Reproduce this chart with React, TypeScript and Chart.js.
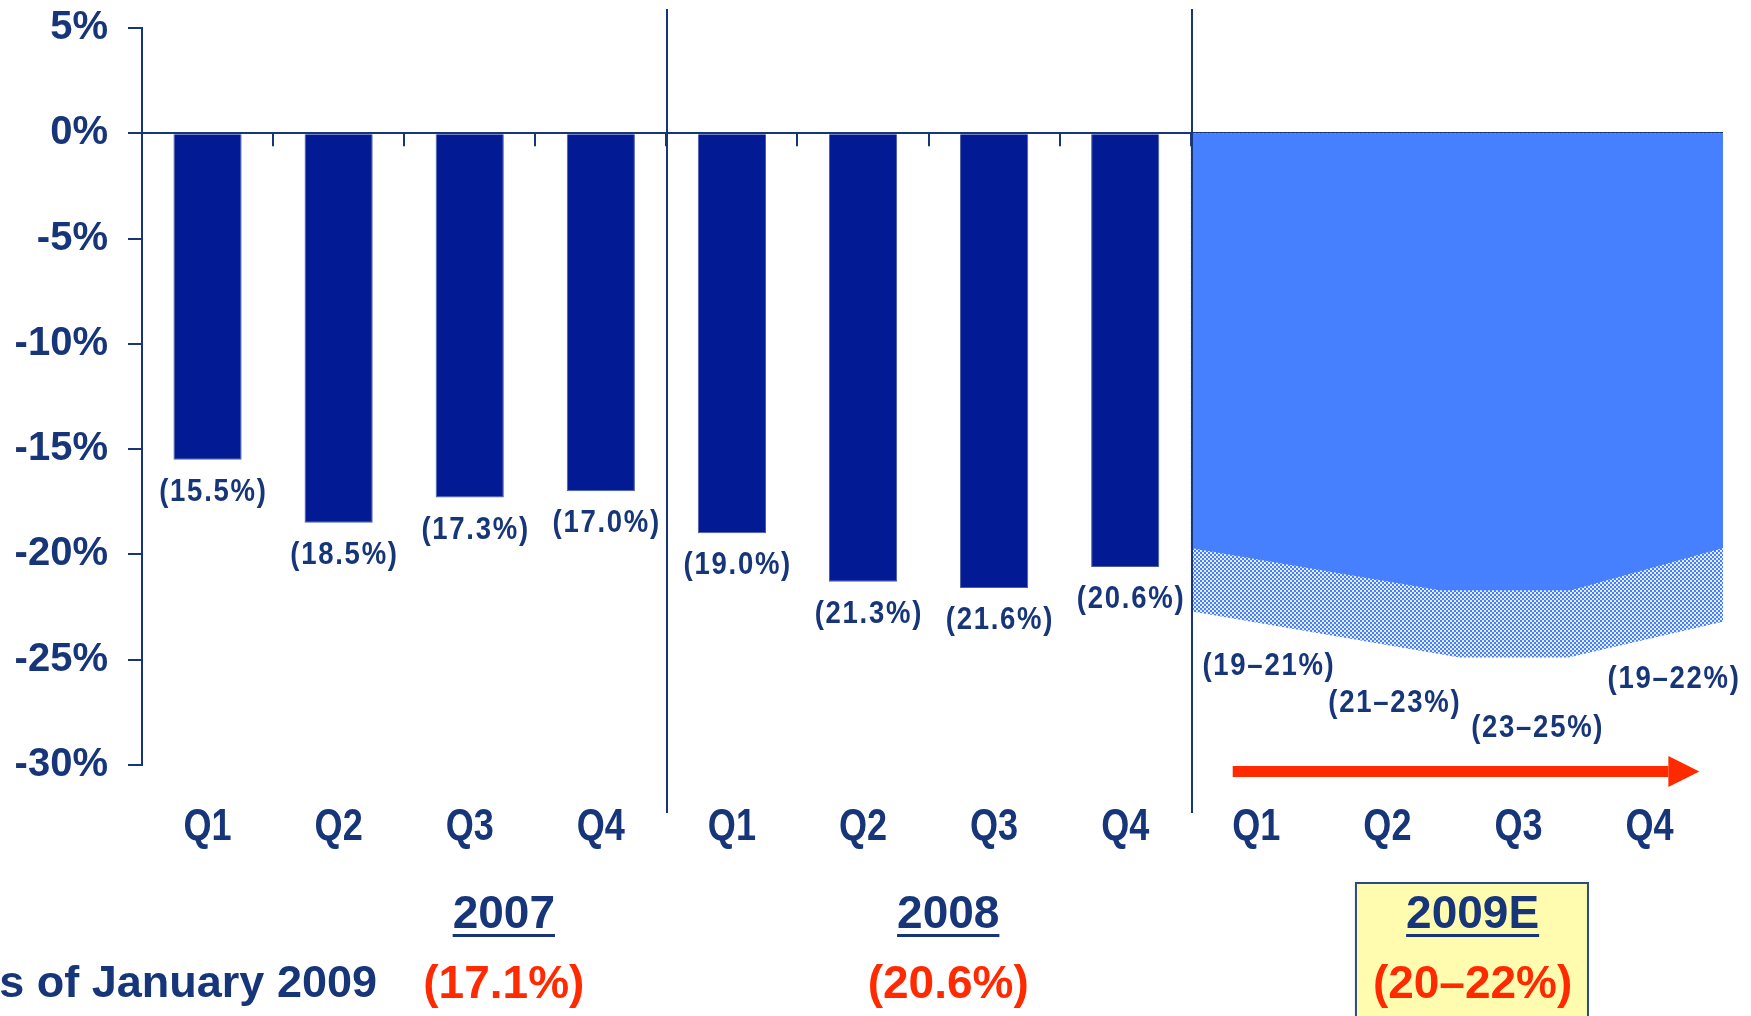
import React, { useEffect, useRef } from "react";
import { Chart, registerables } from "chart.js";

Chart.register(...registerables);

// ---------------- data ----------------
const quarters = ["Q1", "Q2", "Q3", "Q4", "Q1", "Q2", "Q3", "Q4", "Q1", "Q2", "Q3", "Q4"];
const actualValues: (number | null)[] = [-15.5, -18.5, -17.3, -17.0, -19.0, -21.3, -21.6, -20.6, null, null, null, null];
const yMin = -30;
const yMax = 5;
const yStep = 5;
// 2009E forecast band, x in quarter-index units, y in %
const forecastEdgeX = [7.5, 9.4, 10.4, 11.56];
const forecastEdgeY = [-19.7, -21.7, -21.7, -19.7];
const forecastLowX = [7.5, 9.55, 10.38, 11.56];
const forecastLowY = [-22.7, -24.9, -24.9, -23.2];
const rangeLabels = ["(19\u201321%)", "(21\u201323%)", "(23\u201325%)", "(19\u201322%)"];
const years = ["2007", "2008", "2009E"];
const annualLabels = ["(17.1%)", "(20.6%)", "(20\u201322%)"];
const footnote = "s of January 2009";

// ---------------- styling ----------------
const NAVY = "#17367a";
const BAR = "#021a94";
const AREA = "#4680ff";
const RED = "#ff2a00";
const FONT = '"Liberation Sans", Arial, sans-serif';

// layout anchors for annotations (quarter-index units / value units)
const rangeLabelDx = [0.09, 0.05, 0.14, 0.18];
const rangeLabelY = [-25.72, -27.5, -28.67, -26.34];
const yearX = [2.26, 5.65, 9.65];

function makeHatch(ctx: CanvasRenderingContext2D) {
  const c = document.createElement("canvas");
  c.width = 4;
  c.height = 4;
  const g = c.getContext("2d")!;
  g.fillStyle = "#e4ecff";
  g.fillRect(0, 0, 4, 4);
  g.fillStyle = AREA;
  g.fillRect(0, 0, 2, 2);
  g.fillRect(2, 2, 2, 2);
  return ctx.createPattern(c, "repeat");
}

function narrowText(
  ctx: CanvasRenderingContext2D,
  text: string,
  cx: number,
  baseline: number,
  size: number,
  sx: number,
  spacing: number
) {
  ctx.save();
  ctx.translate(cx, baseline);
  ctx.scale(sx, 1);
  ctx.font = `bold ${size}px ${FONT}`;
  (ctx as any).letterSpacing = `${spacing}px`;
  ctx.textAlign = "center";
  ctx.textBaseline = "alphabetic";
  ctx.fillText(text, spacing / 2, 0);
  ctx.restore();
}

const decor = {
  id: "decor",
  beforeDatasetsDraw(chart: any) {
    const { ctx, scales } = chart;
    const x = scales.x;
    const y0 = scales.y.getPixelForValue(0);
    ctx.save();
    ctx.strokeStyle = NAVY;
    ctx.lineWidth = 2;
    for (let b = 0.5; b <= 7.5; b += 1) {
      const px = Math.round(x.getPixelForValue(b));
      ctx.beginPath();
      ctx.moveTo(px, y0);
      ctx.lineTo(px, y0 + 13);
      ctx.stroke();
    }
    ctx.restore();
  },
  afterDatasetsDraw(chart: any) {
    const { ctx, chartArea, scales } = chart;
    const x = scales.x;
    const y = scales.y;
    ctx.save();
    ctx.fillStyle = NAVY;

    // bar value labels
    const meta = chart.getDatasetMeta(0);
    meta.data.forEach((bar: any, i: number) => {
      const v = actualValues[i];
      if (v == null) return;
      narrowText(ctx, `(${Math.abs(v).toFixed(1)}%)`, bar.x + 5, bar.y + 41, 32, 0.86, 2);
    });

    // forecast range labels
    rangeLabels.forEach((t, i) => {
      const px = x.getPixelForValue(8 + i + rangeLabelDx[i]);
      narrowText(ctx, t, px, y.getPixelForValue(rangeLabelY[i]), 32, 0.86, 2);
    });

    // quarter labels
    quarters.forEach((q, i) => {
      narrowText(ctx, q, x.getPixelForValue(i), chartArea.bottom + 75, 44, 0.82, 0);
    });

    // group dividers
    ctx.strokeStyle = NAVY;
    ctx.lineWidth = 2;
    [3.5, 7.5].forEach((b) => {
      const px = Math.round(x.getPixelForValue(b)) + 1;
      ctx.beginPath();
      ctx.moveTo(px, chartArea.top - 19);
      ctx.lineTo(px, chartArea.bottom + 48);
      ctx.stroke();
    });

    // red arrow
    const ax0 = x.getPixelForValue(7.82);
    const ax1 = x.getPixelForValue(11.38);
    const ay = chartArea.bottom + 6.5;
    ctx.fillStyle = RED;
    ctx.fillRect(ax0, ay - 5.5, ax1 - 31 - ax0, 11);
    ctx.beginPath();
    ctx.moveTo(ax1 - 31, ay - 15.5);
    ctx.lineTo(ax1, ay);
    ctx.lineTo(ax1 - 31, ay + 15.5);
    ctx.closePath();
    ctx.fill();

    // yellow box around 2009E
    const bx0 = x.getPixelForValue(8.76);
    const bx1 = x.getPixelForValue(10.53);
    const by0 = chartArea.bottom + 118;
    ctx.fillStyle = "#fffcb0";
    ctx.fillRect(bx0, by0, bx1 - bx0, 200);
    ctx.strokeStyle = "#2a4a8a";
    ctx.lineWidth = 2;
    ctx.strokeRect(bx0, by0, bx1 - bx0, 200);

    // year headings (underlined) and annual values
    ctx.textAlign = "center";
    ctx.textBaseline = "alphabetic";
    years.forEach((t, i) => {
      const cx = x.getPixelForValue(yearX[i]);
      ctx.font = `bold 46px ${FONT}`;
      ctx.fillStyle = NAVY;
      const by = chartArea.bottom + 163;
      ctx.fillText(t, cx, by);
      const w = ctx.measureText(t).width;
      ctx.fillRect(cx - w / 2, by + 6, w, 3);
      ctx.fillStyle = RED;
      ctx.fillText(annualLabels[i], cx, chartArea.bottom + 233);
    });

    // footnote
    ctx.fillStyle = NAVY;
    ctx.font = `bold 45px ${FONT}`;
    ctx.textAlign = "right";
    ctx.fillText(footnote, 377, chartArea.bottom + 232);

    ctx.restore();
  },
};

export default function App() {
  const canvasRef = useRef<HTMLCanvasElement | null>(null);

  useEffect(() => {
    const canvas = canvasRef.current!;
    const ctx = canvas.getContext("2d")!;
    const hatch = makeHatch(ctx);

    const chart = new Chart(ctx, {
      type: "bar",
      data: {
        datasets: [
          {
            type: "bar",
            data: actualValues.map((v, i) => ({ x: i, y: v })) as any,
            backgroundColor: BAR,
            borderColor: "#4a5ba3",
            borderWidth: 1,
            barPercentage: 0.52,
            categoryPercentage: 1,
          } as any,
          {
            type: "line",
            data: forecastEdgeX.map((xv, i) => ({ x: xv, y: forecastEdgeY[i] })),
            fill: "origin",
            backgroundColor: AREA,
            borderWidth: 0,
            pointRadius: 0,
            tension: 0,
            clip: false,
          } as any,
          {
            type: "line",
            data: forecastLowX.map((xv, i) => ({ x: xv, y: forecastLowY[i] })),
            fill: "origin",
            backgroundColor: hatch,
            borderWidth: 0,
            pointRadius: 0,
            tension: 0,
            clip: false,
          } as any,
        ],
      },
      options: {
        responsive: false,
        animation: false,
        layout: { padding: { top: 28, right: 28, left: 0, bottom: 0 } },
        plugins: { legend: { display: false }, tooltip: { enabled: false } },
        scales: {
          x: {
            type: "linear",
            position: "bottom",
            offset: false,
            min: -0.5,
            max: 11.56,
            grid: { display: false, drawTicks: false },
            border: { display: false },
            ticks: { display: false },
            afterBuildTicks(s: any) {
              s.ticks = quarters.map((_, i) => ({ value: i }));
            },
            afterFit(s: any) {
              s.height = 251;
              s.paddingLeft = 0;
              s.paddingRight = 0;
            },
          },
          y: {
            position: "left",
            min: yMin,
            max: yMax,
            ticks: {
              stepSize: yStep,
              color: NAVY,
              font: { family: FONT, size: 40, weight: "bold" },
              padding: 20,
              callback: (v: any) => `${v}%`,
            },
            grid: {
              color: (c: any) => (c.tick && c.tick.value === 0 ? NAVY : "rgba(0,0,0,0)"),
              tickColor: NAVY,
              lineWidth: 2,
              tickLength: 14,
            },
            border: { display: true, color: NAVY, width: 2 },
            afterFit(s: any) {
              s.width = 142;
              s.paddingTop = 0;
              s.paddingBottom = 0;
            },
          },
        } as any,
      },
      plugins: [decor],
    });
    return () => chart.destroy();
  }, []);

  return (
    <div style={{ position: "fixed", left: 0, top: 0, width: 1751, height: 1016, background: "#fff" }}>
      <canvas ref={canvasRef} width={1751} height={1016} style={{ width: 1751, height: 1016, display: "block" }} />
    </div>
  );
}
